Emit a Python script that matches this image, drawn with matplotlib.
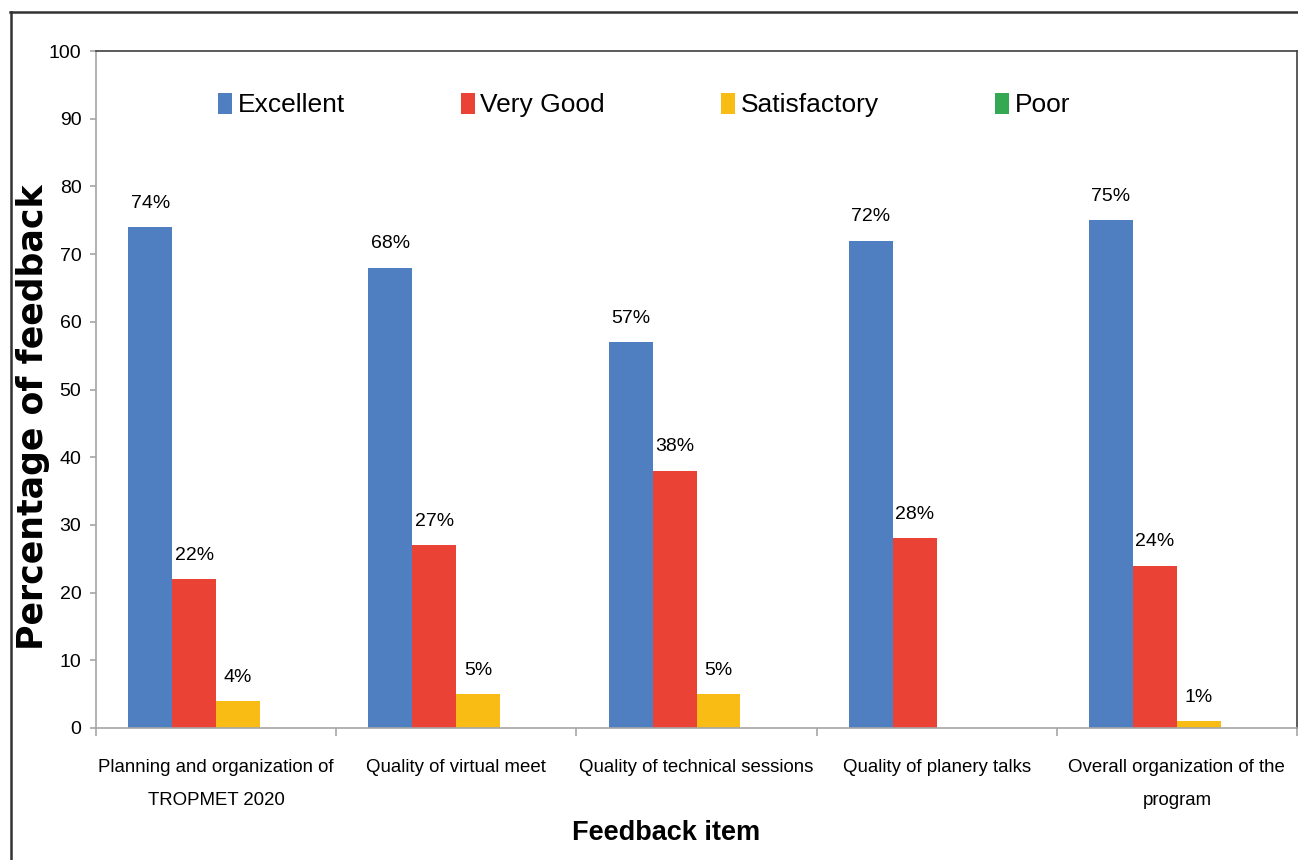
import matplotlib
matplotlib.use("Agg")
import matplotlib.pyplot as plt
from matplotlib.lines import Line2D
import numpy as np

# feedback data (percent)
items = ["Planning and organization of\nTROPMET 2020", "Quality of virtual meet",
         "Quality of technical sessions", "Quality of planery talks",
         "Overall organization of the\nprogram"]
ratings = ["Excellent", "Very Good", "Satisfactory", "Poor"]
excellent = [74, 68, 57, 72, 75]
very_good = [22, 27, 38, 28, 24]
satisfactory = [4, 5, 5, 0, 1]
poor = [0, 0, 0, 0, 0]
yticks = list(range(0, 101, 10))

colors = ["#4F7EC1", "#EA4335", "#F9BC15", "#34A853"]
plt.rcParams["font.family"] = ["Liberation Sans Narrow", "Liberation Sans", "DejaVu Sans"]

W, H = 1298, 860
fig = plt.figure(figsize=(W / 100, H / 100), dpi=100)
ax = fig.add_axes([96 / W, 1 - 728 / H, (1297 - 96) / W, (728 - 51) / H])

x = np.arange(len(items))
w = 0.183
series = [excellent, very_good, satisfactory, poor]
for i, (vals, name) in enumerate(zip(series, ratings)):
    pos = x + (i - 1.5) * w
    ax.bar(pos, vals, w, color=colors[i], label=name, zorder=2)
    for p, v in zip(pos, vals):
        if v > 0:
            ax.annotate(f"{v}%", (p, v), xytext=(0, 11), textcoords="offset points",
                        ha="center", va="bottom", fontsize=14)

ax.set_xlim(-0.5, len(items) - 0.5)
ax.set_ylim(0, 100)
ax.set_yticks(yticks)
ax.tick_params(axis="y", labelsize=14, length=4.5, color="#a6a6a6", width=1.2, pad=6)

ax.set_xticks(x)
ax.set_xticklabels(items, fontsize=13.4, linespacing=2.3, va="top")
ax.tick_params(axis="x", which="major", length=0, pad=22)
ax.set_xticks(np.arange(-0.5, len(items)), minor=True)
ax.tick_params(axis="x", which="minor", length=6, color="#a6a6a6", width=1.2)

for s in ["left", "bottom"]:
    ax.spines[s].set_color("#a6a6a6")
    ax.spines[s].set_linewidth(1.2)
for s in ["top", "right"]:
    ax.spines[s].set_color("#404040")
    ax.spines[s].set_linewidth(1.2)

fig.legend(loc="center left", bbox_to_anchor=(218 / W, 1 - 105 / H), ncol=4,
           frameon=False, fontsize=19, borderpad=0, borderaxespad=0,
           handlelength=0.54, handleheight=0.88, handletextpad=0.2,
           columnspacing=4.4)

fig.text(33 / W, 1 - 417 / H, "Percentage of feedback", rotation=90,
         ha="center", va="center", fontsize=25, fontweight="bold",
         family="DejaVu Sans")
fig.text(666 / W, 1 - 833 / H, "Feedback item", ha="center", va="center",
         fontsize=19.5, fontweight="bold")

# outer frame lines (top and left)
fig.add_artist(Line2D([10 / W, 1], [1 - 12 / H, 1 - 12 / H], color="#333333", lw=1.8))
fig.add_artist(Line2D([10.5 / W, 10.5 / W], [0, 1 - 12 / H], color="#333333", lw=1.8))

fig.savefig("out.png", dpi=100)
